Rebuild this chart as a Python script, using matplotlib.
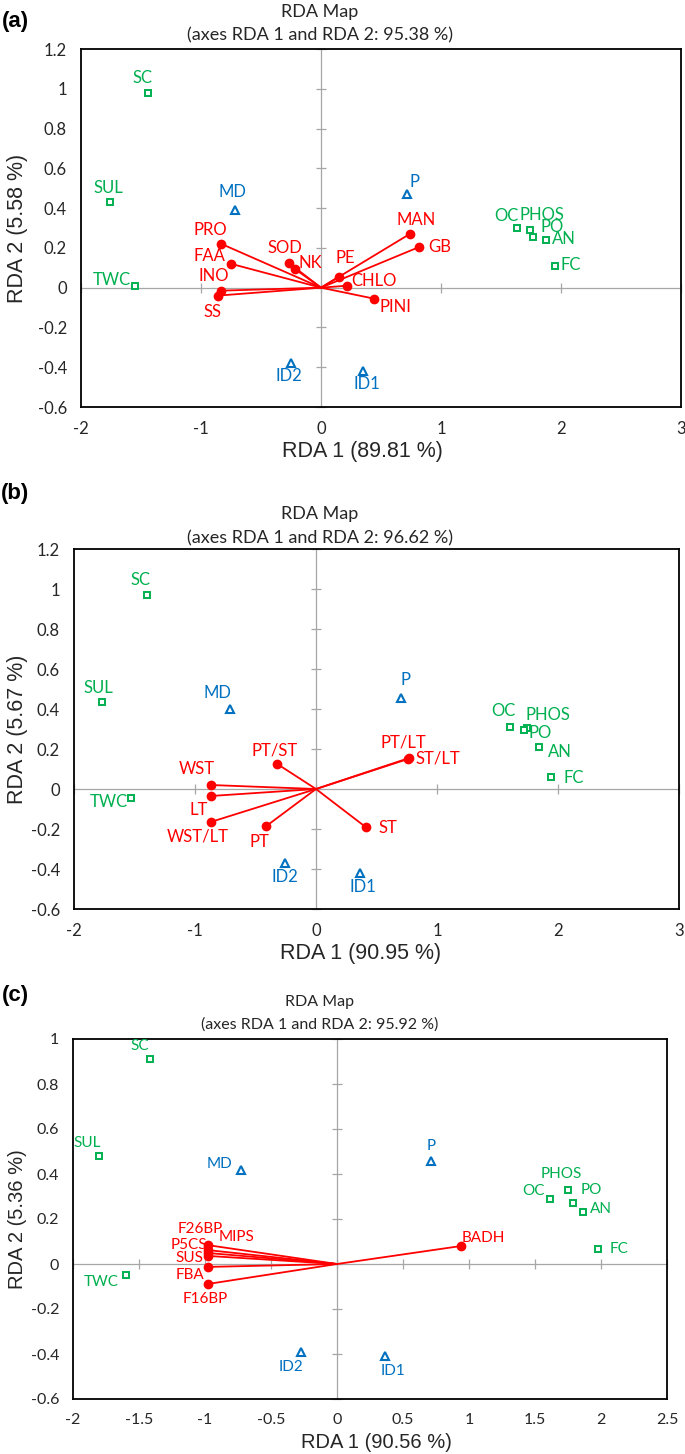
import matplotlib
matplotlib.use("Agg")
import matplotlib.pyplot as plt
import numpy as np

plt.rcParams['axes.unicode_minus'] = False
plt.rcParams['font.family'] = ['Lato', 'DejaVu Sans']

# ---------------- DATA ----------------
# Panel (a)
a_site_names = ["SC", "SUL", "TWC", "OC", "PHOS", "PO", "AN", "FC"]
a_site_x = [-1.44, -1.76, -1.55, 1.63, 1.74, 1.77, 1.875, 1.95]
a_site_y = [0.98, 0.43, 0.01, 0.30, 0.29, 0.255, 0.24, 0.11]
a_obs_names = ["MD", "P", "ID2", "ID1"]
a_obs_x = [-0.72, 0.72, -0.25, 0.35]
a_obs_y = [0.39, 0.47, -0.38, -0.42]
a_var_names = ["PRO", "FAA", "INO", "SS", "SOD", "NK", "PE", "CHLO", "PINI", "MAN", "GB"]
a_var_x = [-0.83, -0.75, -0.83, -0.86, -0.27, -0.22, 0.15, 0.22, 0.44, 0.74, 0.82]
a_var_y = [0.22, 0.12, -0.015, -0.04, 0.125, 0.095, 0.055, 0.01, -0.055, 0.27, 0.205]

# Panel (b)
b_site_names = ["SC", "SUL", "TWC", "OC", "PHOS", "PO", "AN", "FC"]
b_site_x = [-1.40, -1.77, -1.53, 1.60, 1.74, 1.72, 1.84, 1.94]
b_site_y = [0.97, 0.435, -0.045, 0.31, 0.305, 0.295, 0.21, 0.06]
b_obs_names = ["MD", "P", "ID2", "ID1"]
b_obs_x = [-0.71, 0.70, -0.26, 0.36]
b_obs_y = [0.40, 0.455, -0.37, -0.42]
b_var_names = ["PT/ST", "WST", "LT", "WST/LT", "PT", "ST", "PT/LT", "ST/LT"]
b_var_x = [-0.32, -0.87, -0.87, -0.87, -0.41, 0.41, 0.76, 0.77]
b_var_y = [0.125, 0.02, -0.035, -0.165, -0.185, -0.19, 0.15, 0.155]

# Panel (c)
c_site_names = ["SC", "SUL", "TWC", "OC", "PHOS", "PO", "AN", "FC"]
c_site_x = [-1.42, -1.80, -1.60, 1.61, 1.75, 1.79, 1.86, 1.98]
c_site_y = [0.91, 0.48, -0.05, 0.29, 0.33, 0.27, 0.23, 0.067]
c_obs_names = ["MD", "P", "ID2", "ID1"]
c_obs_x = [-0.73, 0.71, -0.27, 0.36]
c_obs_y = [0.42, 0.46, -0.39, -0.41]
c_var_names = ["F26BP", "MIPS", "P5CS", "SUS", "FBA", "F16BP", "BADH"]
c_var_x = [-0.98, -0.98, -0.98, -0.98, -0.98, -0.98, 0.94]
c_var_y = [0.084, 0.062, 0.049, 0.036, -0.013, -0.089, 0.08]

titles_pct = ["95.38", "96.62", "95.92"]
x_titles = ["RDA 1 (89.81 %)", "RDA 1 (90.95 %)", "RDA 1 (90.56 %)"]
y_titles = ["RDA 2 (5.58 %)", "RDA 2 (5.67 %)", "RDA 2 (5.36 %)"]
panel_tags = ["(a)", "(b)", "(c)"]
x_ticks = [np.arange(-2, 3.01, 1), np.arange(-2, 3.01, 1), np.arange(-2, 2.51, 0.5)]
y_ticks = [np.arange(-0.6, 1.21, 0.2), np.arange(-0.6, 1.21, 0.2), np.arange(-0.6, 1.01, 0.2)]

# ---------------- STYLE / LAYOUT ----------------
W, H = 685, 1454
GREEN = "#00B050"
BLUE = "#0070C0"
RED = "#FF0000"
GRAY = "#A6A6A6"
TXT = "#262626"

# label offsets in pixels (dx, dy up)
a_site_off = [(-6, 15), (-1, 14), (-23, 6), (-10, 12), (12, 15), (19, 10), (18, 1), (16, 1)]
a_obs_off = [(-2, 18), (7, 12), (-2, -13), (4, -13)]
a_var_off = [(-11, 14), (-22, 8), (-8, 15), (-5, -16), (-4, 15), (16, 6), (6, 19), (27, 5), (22, -8), (6, 14), (20, 0)]

b_site_off = [(-6, 15), (-3, 14), (-22, -4), (-6, 16), (21, 13), (16, -3), (21, -5), (23, -1)]
b_obs_off = [(-13, 16), (5, 18), (0, -14), (3, -14)]
b_var_off = [(-3, 14), (-14, 16), (-12, -14), (-13, -14), (-7, -16), (22, -1), (-5, 16), (29, -1)]

c_site_off = [(-10, 13), (-12, 13), (-25, -7), (-16, 8), (-7, 16), (18, 13), (18, 3), (21, 0)]
c_obs_off = [(-21, 6), (0, 15), (-10, -15), (8, -15)]
c_var_off = [(-7, 16), (29, 13), (-19, 8), (-18, -2), (-18, -8), (-2, -15), (22, 8)]

# axes rectangles in pixels: left, right, top, bottom
rects = [(81, 681, 49, 407), (74, 679, 549, 909), (73, 667, 1039, 1399)]
xlims = [(-2, 3), (-2, 3), (-2, 2.5)]
ylims = [(-0.6, 1.2), (-0.6, 1.2), (-0.6, 1.0)]
title_y = [(12, 35), (514, 538), (1002, 1025)]
tag_y = [22, 494, 996]
xlabel_cx = [362, 361, 376]
label_fs = [12, 12, 11]
tick_fs = [12, 12, 11.5]
axtitle_fs = [15.5, 15.5, 14.5]
title_fs = [13, 13, 11.5]

panels = [
    (a_site_names, a_site_x, a_site_y, a_obs_names, a_obs_x, a_obs_y,
     a_var_names, a_var_x, a_var_y, a_site_off, a_obs_off, a_var_off),
    (b_site_names, b_site_x, b_site_y, b_obs_names, b_obs_x, b_obs_y,
     b_var_names, b_var_x, b_var_y, b_site_off, b_obs_off, b_var_off),
    (c_site_names, c_site_x, c_site_y, c_obs_names, c_obs_x, c_obs_y,
     c_var_names, c_var_x, c_var_y, c_site_off, c_obs_off, c_var_off),
]

fig = plt.figure(figsize=(W / 100, H / 100), dpi=100)


def fx(px):
    return px / W


def fy(py):
    return 1 - py / H


def fmt(v):
    return "%g" % round(v, 2)


for i, p in enumerate(panels):
    (sn, sx, sy, on, ox, oy, vn, vx, vy, soff, ooff, voff) = p
    l, r, t, b = rects[i]
    ax = fig.add_axes([fx(l), fy(b), (r - l) / W, (b - t) / H])
    ax.set_xlim(*xlims[i])
    ax.set_ylim(*ylims[i])
    for sp in ax.spines.values():
        sp.set_color("black")
        sp.set_linewidth(1.3)
    ax.set_xticks(x_ticks[i])
    ax.set_yticks(y_ticks[i])
    ax.set_xticklabels([fmt(v) for v in x_ticks[i]], fontsize=tick_fs[i], color=TXT)
    ax.set_yticklabels([fmt(v) for v in y_ticks[i]], fontsize=tick_fs[i], color=TXT)
    ax.tick_params(axis="x", length=0, pad=10)
    ax.tick_params(axis="y", length=0, pad=10)

    # zero axes with crossing tick marks
    ax.axhline(0, color=GRAY, lw=0.9, zorder=1)
    ax.axvline(0, color=GRAY, lw=0.9, zorder=1)
    ax.plot(x_ticks[i], np.zeros(len(x_ticks[i])), ls="none", marker="|",
            ms=7, mew=0.9, color=GRAY, zorder=1, clip_on=False)
    ax.plot(np.zeros(len(y_ticks[i])), y_ticks[i], ls="none", marker="_",
            ms=7, mew=0.9, color=GRAY, zorder=1, clip_on=False)

    # variable vectors
    for x, y in zip(vx, vy):
        ax.plot([0, x], [0, y], color=RED, lw=1.3, zorder=3)
    ax.plot(vx, vy, ls="none", marker="o", ms=6, color=RED, zorder=4)
    for name, x, y, (dx, dy) in zip(vn, vx, vy, voff):
        ax.annotate(name, (x, y), xytext=(dx, dy), textcoords="offset pixels",
                    ha="center", va="center", color=RED, fontsize=label_fs[i])

    # sites
    ax.plot(sx, sy, ls="none", marker="s", ms=4.2, mfc="white", mec=GREEN, mew=1.4, zorder=5)
    for name, x, y, (dx, dy) in zip(sn, sx, sy, soff):
        ax.annotate(name, (x, y), xytext=(dx, dy), textcoords="offset pixels",
                    ha="center", va="center", color=GREEN, fontsize=label_fs[i])

    # observations
    ax.plot(ox, oy, ls="none", marker="^", ms=5.5, mfc="white", mec=BLUE, mew=1.5, zorder=5)
    for name, x, y, (dx, dy) in zip(on, ox, oy, ooff):
        ax.annotate(name, (x, y), xytext=(dx, dy), textcoords="offset pixels",
                    ha="center", va="center", color=BLUE, fontsize=label_fs[i])

    # titles
    fig.text(fx(320), fy(title_y[i][0]), "RDA Map", ha="center", va="center",
             fontsize=title_fs[i], color=TXT)
    fig.text(fx(320), fy(title_y[i][1]), "(axes RDA 1 and RDA 2: %s %%)" % titles_pct[i],
             ha="center", va="center", fontsize=title_fs[i], color=TXT)
    fig.text(fx(15), fy(tag_y[i]), panel_tags[i], ha="center", va="center",
             fontsize=16, fontweight="bold", color="black", family=["Liberation Sans"])
    fig.text(fx(xlabel_cx[i]), fy(b + 44), x_titles[i], ha="center", va="center",
             fontsize=axtitle_fs[i], color=TXT, family=["Liberation Sans"])
    fig.text(fx(18), fy((t + b) / 2), y_titles[i], ha="center", va="center", rotation=90,
             fontsize=axtitle_fs[i], color=TXT, family=["Liberation Sans"])

fig.savefig("out.png", dpi=100)
